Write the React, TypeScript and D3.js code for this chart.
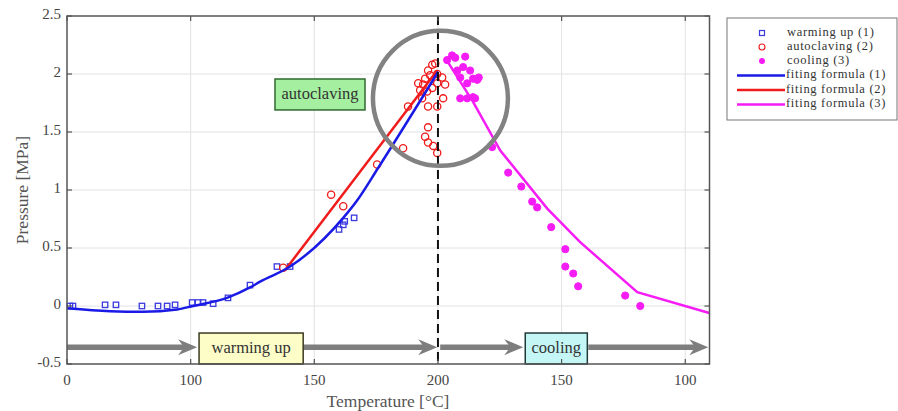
import React from "react";
import * as d3 from "d3";

// process position along the x axis (heating 50..200, cooling 200..310)
const xTickValues = [50, 100, 150, 200, 250, 300];
const xTickLabels = ["0", "100", "150", "200", "150", "100"];
const yTickValues = [-0.5, 0, 0.5, 1, 1.5, 2, 2.5];
const yTickLabels = ["-0.5", "0", "0.5", "1", "1.5", "2", "2.5"];

const warmingX = [51.2, 52.4, 65.4, 69.8, 80.3, 86.8, 90.5, 93.7, 100.6, 103.0, 105.0, 109.1, 115.1, 124.0, 134.9, 140.2, 160.0, 161.7, 162.3, 166.1];
const warmingY = [0.0, 0.0, 0.01, 0.01, 0.0, 0.0, 0.0, 0.01, 0.03, 0.03, 0.03, 0.02, 0.07, 0.18, 0.34, 0.34, 0.66, 0.70, 0.73, 0.76];

const autoclavingX = [137.4, 156.8, 161.7, 175.4, 185.9, 187.9, 192.0, 192.8, 193.6, 194.0, 194.8, 194.8, 195.6, 196.0, 196.0, 196.0, 196.0, 196.8, 197.7, 197.7, 198.1, 198.9, 199.7, 199.7, 201.7, 202.1, 202.9, 199.7, 199.7];
const autoclavingY = [0.33, 0.96, 0.86, 1.22, 1.36, 1.72, 1.92, 1.86, 1.79, 1.91, 1.96, 1.46, 1.85, 2.03, 1.72, 1.54, 1.41, 1.99, 2.08, 1.88, 1.38, 2.09, 1.72, 1.32, 1.97, 1.79, 1.91, 1.92, 2.0];

const coolingX = [203.7, 205.7, 207.0, 207.8, 209.0, 209.0, 210.2, 211.0, 211.8, 211.8, 213.0, 214.2, 214.2, 215.9, 216.5, 215.0, 221.9, 228.4, 233.7, 238.1, 240.1, 245.8, 251.5, 251.5, 254.7, 256.7, 275.7, 281.8];
const coolingY = [2.12, 2.16, 2.14, 2.03, 1.97, 1.79, 2.06, 2.15, 1.92, 1.79, 2.03, 1.96, 1.80, 1.95, 1.97, 1.79, 1.37, 1.15, 1.03, 0.90, 0.85, 0.68, 0.49, 0.34, 0.28, 0.17, 0.09, 0.0];

const fit1X = [50, 67.4, 80.7, 94.5, 101, 114.7, 124.0, 128.1, 140.2, 161.7, 167.3, 175.8, 200.1];
const fit1Y = [-0.02, -0.045, -0.05, -0.03, 0.0, 0.07, 0.16, 0.21, 0.34, 0.76, 0.91, 1.19, 2.02];
const fit2X = [138.2, 199.7];
const fit2Y = [0.31, 2.03];
const fit3X = [204.1, 214.2, 225.2, 244.2, 257.5, 280.6, 309.7];
const fit3Y = [2.10, 1.76, 1.34, 0.84, 0.55, 0.12, -0.06];

const legendLabels = ["warming up (1)", "autoclaving (2)", "cooling (3)", "fiting formula (1)", "fiting formula (2)", "fiting formula (3)"];

const BLUE = "#1a1ae6";
const RED = "#f01c1c";
const MAG = "#f51cf5";
const FONT = "'Liberation Serif', 'DejaVu Serif', serif";

const W = 898, H = 411;
const left = 67, right = 709.5, top = 16, bottom = 364;

export default function App() {
  const x = d3.scaleLinear().domain([50, 309.8]).range([left, right]);
  const y = d3.scaleLinear().domain([-0.5, 2.5]).range([bottom, top]);
  const line = d3.line<[number, number]>().x(d => x(d[0])).y(d => y(d[1]));
  const smooth = d3.line<[number, number]>().x(d => x(d[0])).y(d => y(d[1])).curve(d3.curveMonotoneX);
  const zip = (a: number[], b: number[]) => a.map((v, i) => [v, b[i]] as [number, number]);

  const arrowY = y(-0.355);
  const arrows: [number, number][] = [[50, 102.6], [145.5, 199.7], [200.9, 234.5], [260.8, 309.3]];
  const arrowPath = (x0: number, x1: number) => {
    const a = x(x0), b = x(x1);
    return `M${a},${arrowY}L${b - 12},${arrowY}`;
  };
  const headPath = (x1: number) => {
    const b = x(x1);
    return `M${b},${arrowY}L${b - 19},${arrowY - 8}L${b - 13},${arrowY}L${b - 19},${arrowY + 8}Z`;
  };

  const box = (x0: number, x1: number, y0: number, y1: number, fill: string, stroke: string, label: string) => (
    <g>
      <rect x={x(x0)} y={y(y1)} width={x(x1) - x(x0)} height={y(y0) - y(y1)} fill={fill} stroke={stroke} strokeWidth={1.5} />
      <text x={(x(x0) + x(x1)) / 2} y={(y(y0) + y(y1)) / 2 + 1} textAnchor="middle" dominantBaseline="middle" fontSize={16.5} fill="#333" fontFamily={FONT}>{label}</text>
    </g>
  );

  const legendRows = [33, 47, 61, 75.5, 90, 104.5];

  return (
    <svg width={W} height={H} style={{ position: "fixed", left: 0, top: 0, background: "#fff" }} fontFamily={FONT}>
      <rect x={0} y={0} width={W} height={H} fill="#fff" />
      {/* grid */}
      {xTickValues.slice(1).map(v => (
        <line key={"gx" + v} x1={x(v)} x2={x(v)} y1={top} y2={bottom} stroke="#e2e2e2" strokeWidth={1} />
      ))}
      {yTickValues.slice(1, -1).map(v => (
        <line key={"gy" + v} x1={left} x2={right} y1={y(v)} y2={y(v)} stroke="#e2e2e2" strokeWidth={1} />
      ))}
      {/* scatter */}
      {zip(warmingX, warmingY).map((d, i) => (
        <rect key={"w" + i} x={x(d[0]) - 2.7} y={y(d[1]) - 2.7} width={5.4} height={5.4} fill="none" stroke="#3a3ae0" strokeWidth={1.3} />
      ))}
      {zip(autoclavingX, autoclavingY).map((d, i) => (
        <circle key={"a" + i} cx={x(d[0])} cy={y(d[1])} r={3.6} fill="none" stroke={RED} strokeWidth={1.3} />
      ))}
      {zip(coolingX, coolingY).map((d, i) => (
        <circle key={"c" + i} cx={x(d[0])} cy={y(d[1])} r={3.6} fill={MAG} stroke={MAG} strokeWidth={1} />
      ))}
      {/* fits */}
      <path d={line(zip(fit2X, fit2Y)) || ""} fill="none" stroke={RED} strokeWidth={2.5} />
      <path d={smooth(zip(fit1X, fit1Y)) || ""} fill="none" stroke={BLUE} strokeWidth={2.5} />
      <path d={line(zip(fit3X, fit3Y)) || ""} fill="none" stroke={MAG} strokeWidth={2.5} />
      {/* dashed line at 200 */}
      <line x1={x(200)} x2={x(200)} y1={top} y2={bottom} stroke="#111" strokeWidth={2} strokeDasharray="9,5" />
      {/* circle */}
      <circle cx={x(201)} cy={y(1.79)} r={67.5} fill="none" stroke="#828282" strokeWidth={4.5} />
      {/* arrows */}
      {arrows.map((a, i) => (
        <g key={"ar" + i}>
          <path d={arrowPath(a[0], a[1])} stroke="#7e7e7e" strokeWidth={5.5} fill="none" />
          <path d={headPath(a[1])} fill="#7e7e7e" />
        </g>
      ))}
      {box(103.4, 145.5, -0.5, -0.233, "#fdfdc8", "#3a3a20", "warming up")}
      {box(235.3, 260.4, -0.5, -0.233, "#c4f6f6", "#203a3a", "cooling")}
      {box(134.1, 170.5, 1.69, 1.957, "#a4f0a0", "#2f6b2f", "autoclaving")}
      {/* axes box */}
      <rect x={left} y={top} width={right - left} height={bottom - top} fill="none" stroke="#555" strokeWidth={1.5} />
      {xTickValues.map(v => (
        <g key={"tx" + v}>
          <line x1={x(v)} x2={x(v)} y1={bottom} y2={bottom - 5} stroke="#555" strokeWidth={1.2} />
          <line x1={x(v)} x2={x(v)} y1={top} y2={top + 5} stroke="#555" strokeWidth={1.2} />
        </g>
      ))}
      {yTickValues.map(v => (
        <g key={"ty" + v}>
          <line x1={left} x2={left + 5} y1={y(v)} y2={y(v)} stroke="#555" strokeWidth={1.2} />
          <line x1={right} x2={right - 5} y1={y(v)} y2={y(v)} stroke="#555" strokeWidth={1.2} />
        </g>
      ))}
      {xTickValues.map((v, i) => (
        <text key={"lx" + v} x={x(v)} y={382} textAnchor="middle" dominantBaseline="middle" fontSize={15} fill="#444">{xTickLabels[i]}</text>
      ))}
      {yTickValues.map((v, i) => (
        <text key={"ly" + v} x={61} y={y(v)} textAnchor="end" dominantBaseline="middle" fontSize={15} fill="#444">{yTickLabels[i]}</text>
      ))}
      <text x={388} y={403} textAnchor="middle" dominantBaseline="middle" fontSize={17.5} fill="#555">Temperature [°C]</text>
      <text transform={`translate(24,190) rotate(-90)`} textAnchor="middle" dominantBaseline="middle" fontSize={17.5} fill="#555">Pressure [MPa]</text>
      {/* legend */}
      <rect x={727} y={18} width={170} height={102} fill="#fff" stroke="#777" strokeWidth={1} />
      <rect x={762 - 2.5} y={legendRows[0] - 2.5} width={5} height={5} fill="none" stroke="#3a3ae0" strokeWidth={1.2} />
      <circle cx={762} cy={legendRows[1]} r={3} fill="none" stroke={RED} strokeWidth={1.1} />
      <circle cx={762} cy={legendRows[2]} r={3} fill={MAG} />
      <line x1={737} x2={785} y1={legendRows[3]} y2={legendRows[3]} stroke={BLUE} strokeWidth={2.5} />
      <line x1={737} x2={785} y1={legendRows[4]} y2={legendRows[4]} stroke={RED} strokeWidth={2.5} />
      <line x1={737} x2={785} y1={legendRows[5]} y2={legendRows[5]} stroke={MAG} strokeWidth={2.5} />
      {legendLabels.map((l, i) => (
        <text key={"lg" + i} x={i < 3 ? 787 : 786} y={legendRows[i]} dominantBaseline="middle" fontSize={12.5} letterSpacing={0.7} fill="#333">{l}</text>
      ))}
    </svg>
  );
}
